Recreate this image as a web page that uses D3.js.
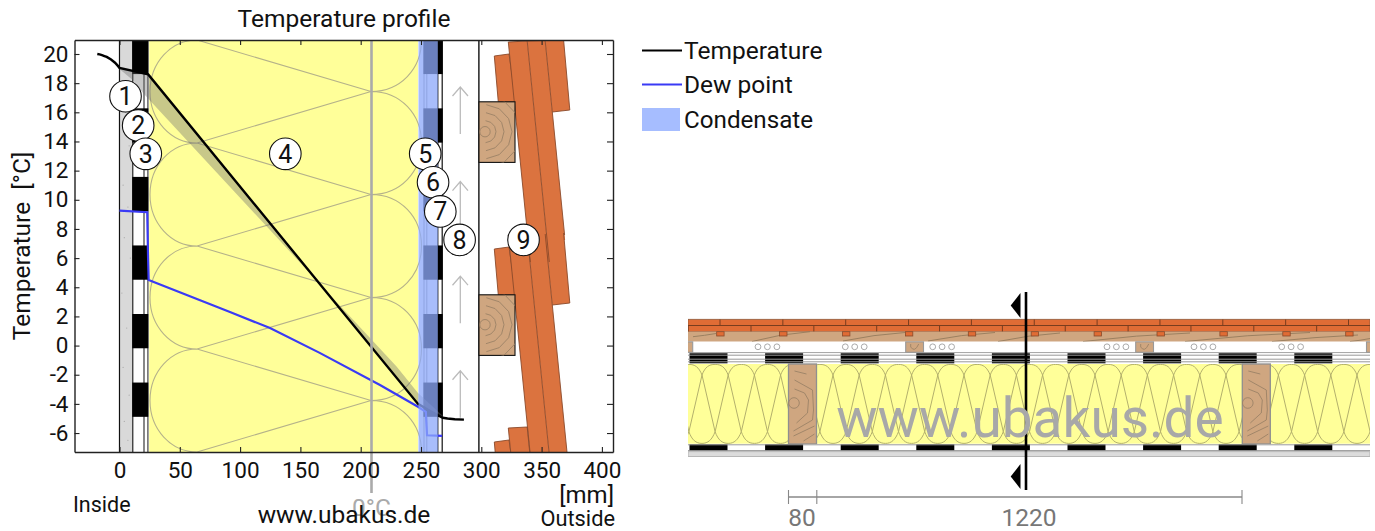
<!DOCTYPE html>
<html><head><meta charset="utf-8">
<script src="https://cdn.jsdelivr.net/npm/d3@7"></script>
<style>html,body{margin:0;padding:0;background:#fff;overflow:hidden}svg{display:block}text{font-family:Roboto,sans-serif;fill:#111;white-space:pre}</style>
</head><body><svg id="c" width="1375" height="531"></svg>
<script>
// ---- data ----
const xTicks=[0,50,100,150,200,250,300,350,400];
const yTicks=[-6,-4,-2,0,2,4,6,8,10,12,14,16,18,20];
const tempMm=[-18.4,-16.5,-14.5,-12.5,-10.6,-7,-3.7,-1.5,0,23.8,247.5,257.5,268,272,278,285.6];
const tempC=[20,19.97,19.92,19.86,19.8,19.62,19.4,19.2,19.05,18.6,-4,-4.49,-4.95,-5,-5.05,-5.08];
const bandMm=[0,11.2,19.7,124.8,166.3,229.9,247.5,268.2];
const bandC=[18.97,18.2,17.3,7.93,4.2,-1.45,-3.25,-4.83];
const dewMm=[0,23,23.7,24.2,91.6,124.8,166,216,247.5,254,255,267.5];
const dewC=[9.25,9.15,6,4.5,2.3,1.2,-0.5,-2.7,-4.2,-4.55,-6.15,-6.2];
const layerEdgesMm=[0,10.6,23.8,247.5,252,263.5,268,298];
const layerNames=["1","2","3","4","5","6","7","8","9"];
const labelMm=[5,15.5,21.8,137.5,253.5,260,266,282,335];
const labelC=[17.1,15.1,13.15,13.15,13.15,11.2,9.2,7.25,7.25];
const legendNames=["Temperature","Dew point","Condensate"];
const dimLabels=["80","1220"];
const concreteDots=[[2,19],[5,16],[8,13.7],[3,11],[7,9.5],[4,7.4],[9,6],[2,3.6],[6,1.2],[3,-1.5],[8,-3.4],[4,-5.2],[7,-6.5]];

// ---- helpers ----
const svg=d3.select("#c");
const L=74.5,R=613,T=40,B=452;
const x=d3.scaleLinear().domain([-37.3,409.2]).range([L,R]);
const y=d3.scaleLinear().domain([-7.3,20.96]).range([B,T]);
const plot=svg.append("g").attr("clip-path","url(#pc)");
svg.append("defs").append("clipPath").attr("id","pc").append("rect").attr("x",L).attr("y",T).attr("width",R-L).attr("height",B-T);
const WOOD="#cfa680",TILE="#db733f",TILEL="#8a4a2a",YEL="#ffff99",RING="#9c8266";
const rect=(g,x0,y0,x1,y1,f)=>g.append("rect").attr("x",x0).attr("y",y0).attr("width",x1-x0).attr("height",y1-y0).attr("fill",f);
const line=(g,x0,y0,x1,y1,c,w)=>g.append("line").attr("x1",x0).attr("y1",y0).attr("x2",x1).attr("y2",y1).attr("stroke",c).attr("stroke-width",w);
const poly=(g,pts,f,s,w)=>g.append("path").attr("d","M"+pts.map(p=>p.join(",")).join("L")+"Z").attr("fill",f).attr("stroke",s||"none").attr("stroke-width",w||1);

// insulation wool
function wool(g,xa,xb,xc,xd,yStart,per){
  const p=d3.path();
  for(let k=-1;k<6;k++){
    const y0=yStart+k*per,ym=y0+per/2,y1=y0+per;
    p.moveTo(xb,y0);p.bezierCurveTo(xa+21,y0,xa,y0+per*.22,xa,ym);p.bezierCurveTo(xa,y1-per*.22,xa+21,y1,xb,y1);
    const r0=ym,r1=ym+per;
    p.moveTo(xc,r0);p.bezierCurveTo(xd-21,r0,xd,r0+per*.22,xd,r0+per/2);p.bezierCurveTo(xd,r1-per*.22,xd-21,r1,xc,r1);
    p.moveTo(xb,y0);p.lineTo(xc,ym);
    p.moveTo(xb,y0);p.lineTo(xc,ym-per);
  }
  g.append("path").attr("d",p.toString()).attr("fill","none").attr("stroke","#b5b28a").attr("stroke-width",1.1);
}

// ---- layers left chart ----
const ex=layerEdgesMm.map(x);
rect(plot,ex[2],T,ex[3]+1,B,"#fff");
rect(plot,ex[2]+1,T,ex[3],B,YEL);
wool(plot,150,197,371,421.5,40,103);
rect(plot,ex[0],T,ex[1],B,"#d9d9d9");
concreteDots.forEach(d=>plot.append("circle").attr("cx",x(d[0])).attr("cy",y(d[1])).attr("r",.6).attr("fill","#aaa"));
line(plot,ex[0],T,ex[0],B,"#111",1.2);
const per=68.55;
line(plot,ex[1]+.5,T,ex[1]+.5,B,"#222",1.2);
line(plot,144,T,144,B,"#555",1.4);
line(plot,147.9,T,147.9,B,"#444",1.2);
rect(plot,ex[4],T,ex[5],B,"#fff");
line(plot,424,T,424,B,"#777",.8);line(plot,426.8,T,426.8,B,"#777",.8);
line(plot,437.8,T,437.8,B,"#111",1.2);line(plot,442.2,T,442.2,B,"#111",1.2);
for(let k=-1;k<6;k++){
  const yA=39.8+k*per,yB=yA+per/2;
  rect(plot,ex[1],yA,148.3,yB,"#000");
  rect(plot,ex[4],yA,ex[5],yB,"#000");
  rect(plot,437.3,yA,442.7,yB,"#000");
}
line(plot,ex[7],T,ex[7],B,"#111",1.4);
[87,181.6,276.2,370.8].forEach(a=>{
  plot.append("path").attr("d",`M460.3,${a+47}V${a}M452.5,${a+9}L460.3,${a}L468,${a+9}`).attr("fill","none").attr("stroke","#bbb").attr("stroke-width",1.3);
});
// tiles: fills first, then edges, so overlapping shingles read as continuous lines
const tp=193;
const Lk=(k,yy)=>508.3+.1*(yy-42-k*tp);
[0,1,2].forEach(k=>{
  const o=k*tp,Lx=yy=>Lk(k,yy);
  const end=k===0?240:262;
  poly(plot,[[494.3,56+o],[509,54+o],[516,102+o],[498.3,102+o]],TILE,TILEL,.9);
  poly(plot,[[Lx(42+o),42+o],[Lx(41+o)+19,41+o],[Lx(262+o)+19,262+o],[Lx(262+o),262+o]],TILE);
  if(k<2){
    poly(plot,[[Lx(41+o)+19,41+o],[Lx(40+o)+37,40+o],[Lx(end+o)+37,end+o],[Lx(end+o)+19,end+o]],TILE);
    poly(plot,[[Lx(40+o)+37,40+o],[Lx(40+o)+55.5,40+o],[569.8,110+o],[Lx(112+o)+37,112+o]],TILE);
  }
});
[0,1,2].forEach(k=>{
  const o=k*tp,Lx=yy=>Lk(k,yy);
  const end=k===0?235:262;
  line(plot,Lx(42+o),42+o,Lx(41+o)+19,41+o,TILEL,.9);
  line(plot,Lx(42+o),42+o,Lx(262+o),262+o,TILEL,.9);
  line(plot,Lx(41+o)+19,41+o,Lx(262+o)+19,262+o,TILEL,.9);
  if(k<2) line(plot,Lx(41+o)+37,41+o,Lx(end+o)+37,end+o,TILEL,.9);
  if(k===0) line(plot,Lx(41)+19,41,Lx(40)+55.5,40,TILEL,.9);
  if(k<2){
    line(plot,Lx(40+o)+55.5,40+o,569.8,110+o,TILEL,.9);
    line(plot,569.8,110+o,Lx(112+o)+37,112+o,TILEL,.9);
  }
});
[0,1].forEach(k=>{
  const o=k*tp,by=101.8+o,cy=131.7+o,cx=485;
  const bg=plot.append("g");
  rect(bg,479,by,515,by+60.6,WOOD).attr("stroke","#111").attr("stroke-width",1.1);
  const clipId="b"+k;
  svg.select("defs").append("clipPath").attr("id",clipId).append("rect").attr("x",479).attr("y",by).attr("width",36).attr("height",60.6);
  const rg=bg.append("g").attr("clip-path",`url(#${clipId})`);
  rg.append("circle").attr("cx",cx).attr("cy",cy).attr("r",5.2).attr("fill","none").attr("stroke",RING).attr("stroke-width",.9);
  [11,19,27,36].forEach(r=>{
    const pts=d3.range(-3,4).map(i=>{const a=i*Math.PI/6.2;return [cx+r*Math.cos(a),cy+r*Math.sin(a)];});
    rg.append("path").attr("d","M"+pts.map(p=>p.join(",")).join("L")).attr("fill","none").attr("stroke",RING).attr("stroke-width",.9);
  });
});
// band + curves + condensate
const lineF=(a,b)=>d3.line().x((_,i)=>x(a[i])).y((_,i)=>y(b[i]));
const upper=tempMm.map((m,i)=>[m,tempC[i]]).filter(d=>d[0]>=0&&d[0]<=268);
const bandPoly=upper.map(d=>[x(d[0]),y(d[1])]).concat(bandMm.map((m,i)=>[x(m),y(bandC[i])]).reverse());
poly(plot,bandPoly,"rgba(110,110,110,.38)");
plot.append("path").datum(dewMm).attr("d",lineF(dewMm,dewC)).attr("fill","none").attr("stroke","#3a3af5").attr("stroke-width",2.2);
plot.append("path").datum(tempMm).attr("d",lineF(tempMm,tempC)).attr("fill","none").attr("stroke","#000").attr("stroke-width",2.4);
rect(plot,ex[3]+.5,T,ex[5]+.5,B,"rgb(141,168,250)").attr("opacity",.76);
line(svg,371.5,T,371.5,493,"#aaa",2.6);

// ---- axes ----
const axes=svg.append("g");
const ax=(gen,tx,ty,lab)=>{
  const g=axes.append("g").attr("transform",`translate(${tx},${ty})`).call(gen);
  g.selectAll("path").attr("stroke","#222").attr("stroke-width",1.4);
  g.selectAll("line").attr("stroke","#222").attr("stroke-width",1.1);
  g.selectAll("text").attr("font-family","Roboto").attr("font-size",22.5).attr("fill","#111");
  if(!lab)g.selectAll("text").remove();
  return g;
};
ax(d3.axisBottom(x).tickValues(xTicks).tickSizeInner(-5).tickSizeOuter(0).tickPadding(10).tickFormat(d3.format("d")),0,B,true);
ax(d3.axisTop(x).tickValues(xTicks).tickSizeInner(-5).tickSizeOuter(0),0,T,false);
ax(d3.axisLeft(y).tickValues(yTicks).tickSizeInner(-5).tickSizeOuter(0).tickPadding(6).tickFormat(d=>String(d)),L,0,true);
ax(d3.axisRight(y).tickValues(yTicks).tickSizeInner(-6).tickSizeOuter(0),R,0,false);

labelMm.forEach((m,i)=>{
  const g=svg.append("g").attr("transform",`translate(${x(m)},${y(labelC[i])})`);
  g.append("circle").attr("r",15.8).attr("fill","#fff").attr("stroke","#111").attr("stroke-width",1.1);
  g.append("text").attr("text-anchor","middle").attr("y",9).attr("font-size",25).text(layerNames[i]);
});

const txt=(s,px,py,size,anchor,col)=>svg.append("text").attr("x",px).attr("y",py).attr("font-size",size).attr("text-anchor",anchor||"start").style("fill",col||"#111").text(s);
txt("Temperature profile",344,27,24.5,"middle");
svg.append("text").attr("transform","translate(30,246) rotate(-90)").attr("text-anchor","middle").attr("font-size",24.5).text("Temperature  [°C]");
txt("0°C",371.5,515.5,24.5,"middle","#aaa");
txt("Inside",73,512,21.5);
txt("www.ubakus.de",344,522.5,24.5,"middle");
txt("[mm]",614,503,24,"end");
txt("Outside",615,525.5,21.8,"end");
line(svg,642,50.5,682,50.5,"#000",2);
line(svg,642,84.5,682,84.5,"#3a3af5",2);
rect(svg,642,108,680,131,"#a6bdff");
legendNames.forEach((s,i)=>txt(s,684,[58.5,93,127.5][i],i===2?24.2:24.5));

// ---- section drawing ----
const S=svg.append("g").attr("clip-path","url(#sc)");
svg.select("defs").append("clipPath").attr("id","sc").append("rect").attr("x",688).attr("y",285).attr("width",682).attr("height",180);
rect(S,688,319.3,1370,331.7,"#e06c35").attr("stroke","#8d5a3c").attr("stroke-width",.8);
line(S,688,325.5,1370,325.5,"#7a3d1e",1);
d3.range(-1,11).forEach(i=>{
  const a=720+i*62.85;
  line(S,a,319.5,a,325.5,"#7a3d1e",1);
  line(S,a+31,325.5,a+31,331.7,"#7a3d1e",1);
});
rect(S,688,331.7,1370,341.7,WOOD);
[[693,336.7,716,333.5],[752,341.5,810,331.7],[843,341,905,332.5],[928,341,995,332.5],[998,341.5,1060,333],[1083,341.5,1190,333],[1185,341.5,1310,332.5],[1272,341.5,1358,335],[1350,341.5,1370,338.5]].forEach(s=>{
  S.append("path").attr("d",`M${s[0]},${s[1]}Q${(s[0]+s[2])/2},${s[3]+2} ${s[2]},${s[3]}`).attr("fill","none").attr("stroke","#8e7658").attr("stroke-width",.8);
});
d3.range(-1,11).forEach(i=>{
  const a=716.7+i*62.9;
  rect(S,a,331.7,a+7.4,336,"#e06c35").attr("stroke","#8a4a2a").attr("stroke-width",.8);
});
rect(S,688,341.7,1370,352.3,"#fff");
line(S,688,352.6,1370,352.6,"#aaa",1.3);
[[680,692.7],[905.7,923.5],[1135.7,1153.5],[1366.5,1378]].forEach((a,i)=>{
  rect(S,a[0],341.9,a[1],352.3,WOOD).attr("stroke","#999").attr("stroke-width",1.1);
  if(i===1||i===2) S.append("path").attr("d",`M${a[0]+5},344V347Q${a[0]+9},353 ${a[0]+13},344`).attr("fill","none").attr("stroke",RING).attr("stroke-width",.9);
});
[758,845.3,932.7,1107,1194,1281.7].forEach(a=>[0,9.4,18.9].forEach(d=>{
  S.append("circle").attr("cx",a+d).attr("cy",346.8).attr("r",2.9).attr("fill","#fff").attr("stroke","#aaa").attr("stroke-width",1);
}));
const blockStarts=d3.range(-1,9).map(i=>689.5+i*75.6);
const strip=(y0,y1,lines)=>{
  rect(S,688,y0,1370,y1,"#fff");
  blockStarts.forEach(a=>rect(S,a,y0,a+38,y1,"#000"));
  lines.forEach(l=>line(S,688,l,1370,l,"#999",1));
};
strip(353.3,363.3,[355.2,359.2,361.8]);
rect(S,688,364,1370,443.7,YEL);
[[688,788.5],[817,1242.3],[1270,1370]].forEach((p,i)=>{
  const id="ins"+i;
  svg.select("defs").append("clipPath").attr("id",id).append("rect").attr("x",p[0]).attr("y",364).attr("width",p[1]-p[0]).attr("height",80);
  const g=S.append("g").attr("clip-path",`url(#${id})`);
  const d=d3.path();
  for(let n=-2;n<27;n++){
    const a=702+n*26.2,b=a+13.1,t=375,u=431.7;
    d.moveTo(a,t);d.bezierCurveTo(a+3,367,a+7,364.4,b,364.4);d.bezierCurveTo(b+6,364.4,a+23,367,a+26.2,t);
    d.moveTo(b,u);d.bezierCurveTo(b+3,440,b+7,443.4,b+13.1,443.4);d.bezierCurveTo(b+19,443.4,b+23,440,b+26.2,u);
    d.moveTo(a,t);d.lineTo(b,u);d.moveTo(a,t);d.lineTo(a-13.1,u);
  }
  g.append("path").attr("d",d.toString()).attr("fill","none").attr("stroke","#b3b06c").attr("stroke-width",1);
});
[788.5,1242.3].forEach(a=>{
  rect(S,a,364,a+28,444,WOOD).attr("stroke","#8f8f8f").attr("stroke-width",1.3);
  const c=a+5.5,m=403;
  const g=S.append("g").attr("fill","none").attr("stroke",RING).attr("stroke-width",.9);
  g.append("circle").attr("cx",c).attr("cy",m).attr("r",5.3);
  g.append("path").attr("d",`M${a+6},389L${a+16},393L${a+20},400L${a+19},413L${a+8},423`);
  g.append("path").attr("d",`M${a+6},380L${a+24},390L${a+25},410L${a+24},420L${a+5},431`);
  g.append("path").attr("d",`M${a+6},371L${a+18},374M${a+5},436L${a+26},426M${a+15},441L${a+26},434`);
});
strip(444.3,451,[444.8,450.6]);
rect(S,688,451.7,1370,456.5,"#dcdcdc").attr("stroke","#aaa").attr("stroke-width",.8);
line(svg,1026,292,1026,490,"#000",2.6);
poly(svg,[[1010.7,305.5],[1020.5,293],[1020.5,318]],"#000");
poly(svg,[[1010.7,476.5],[1020.5,464],[1020.5,489]],"#000");
txt("www.ubakus.de",1030,437,55,"middle","#a8a8a8");
line(svg,788.5,497,1242,497,"#888",1.3);
[788.5,816.8,1242].forEach(a=>line(svg,a,490,a,504,"#888",1.1));
txt(dimLabels[0],802,526,24.5,"middle","#777");
txt(dimLabels[1],1029,526,24.5,"middle","#777");
</script></body></html>
